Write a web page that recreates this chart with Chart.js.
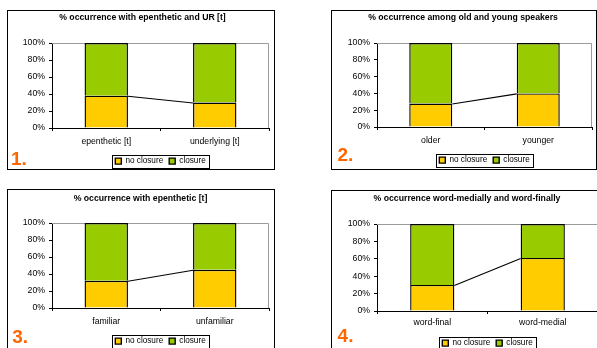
<!DOCTYPE html>
<html><head><meta charset="utf-8">
<script src="https://cdn.jsdelivr.net/npm/chart.js@4.4.1/dist/chart.umd.min.js"></script>
<style>
html,body{margin:0;padding:0;background:#fff;}
body{width:597px;height:348px;overflow:hidden;position:relative;}
.panel{position:absolute;box-sizing:border-box;border:1px solid #000;background:#fff;}
.panel canvas{position:absolute;left:0;top:0;}
.num{position:absolute;font:bold 19px/19px "Liberation Sans",Arial,sans-serif;color:#FF6600;white-space:nowrap;}
</style></head><body>
<script>
// ---- data ----
const seriesNames = ['no closure', 'closure'];
const yTickValues = [0, 20, 40, 60, 80, 100];
const yTickLabels = ['0%', '20%', '40%', '60%', '80%', '100%'];

const titles = [
  '% occurrence with epenthetic and UR [t]',
  '% occurrence among old and young speakers',
  '% occurrence with epenthetic [t]',
  '% occurrence word-medially and word-finally'
];
const panelNumbers = ['1.', '2.', '3.', '4.'];

const categories1 = ['epenthetic [t]', 'underlying [t]'];
const noClosure1 = [38, 30];
const closure1 = [62, 70];

const categories2 = ['older', 'younger'];
const noClosure2 = [28, 40];
const closure2 = [72, 60];

const categories3 = ['familiar', 'unfamiliar'];
const noClosure3 = [32, 45];
const closure3 = [68, 55];

const categories4 = ['word-final', 'word-medial'];
const noClosure4 = [30, 61];
const closure4 = [70, 39];

// ---- layout (page pixel targets) ----
const layouts = [
  {box:[7,10,268,160],  plot:[52,269,43,128],  titleX:142.5, titleY:17.5, labelY:142, legendY:157, numPos:[11,148.5]},
  {box:[331,10,266,160], plot:[377,592,43,127], titleX:463,   titleY:17.5, labelY:141, legendY:156, numPos:[337.4,145]},
  {box:[7,189,268,170], plot:[52,269,223,308], titleX:140.5, titleY:199,  labelY:322, legendY:337, numPos:[12.3,327]},
  {box:[331,190,272,170],plot:[377,598,224,311],titleX:467,   titleY:199,  labelY:323, legendY:339, numPos:[337.6,326]}
];

const panelsData = [
  [categories1, noClosure1, closure1],
  [categories2, noClosure2, closure2],
  [categories3, noClosure3, closure3],
  [categories4, noClosure4, closure4]
];

const FONT = '"Liberation Sans", Arial, sans-serif';
const FS = 8.7, LH = FS * 1.2, FSL = 8.2, LEGPAD = 6, TICK = 3;
const YELLOW = '#FFCC00', GREEN = '#99CC00';

const framePlugin = {
  id: 'frame',
  beforeDatasetsDraw(chart) {
    const a = chart.chartArea, ctx = chart.ctx;
    ctx.save();
    ctx.strokeStyle = '#9a9a9a';
    ctx.lineWidth = 1;
    ctx.beginPath();
    const t = Math.round(a.top) + 0.5, r = Math.round(a.right) - 0.5;
    ctx.moveTo(a.left, t);
    ctx.lineTo(r, t);
    ctx.lineTo(r, a.bottom);
    ctx.stroke();
    ctx.restore();
  }
};
const seriesLinePlugin = {
  id: 'seriesLine',
  afterDatasetsDraw(chart) {
    const meta = chart.getDatasetMeta(0);
    const e0 = meta.data[0], e1 = meta.data[1];
    if (!e0 || !e1) return;
    const ctx = chart.ctx;
    ctx.save();
    ctx.strokeStyle = '#000';
    ctx.lineWidth = 1.1;
    ctx.beginPath();
    ctx.moveTo(e0.x + e0.width / 2, e0.y + 0.5);
    ctx.lineTo(e1.x - e1.width / 2, e1.y + 0.5);
    ctx.stroke();
    ctx.restore();
  }
};
const legendBoxPlugin = {
  id: 'legendBox',
  afterDraw(chart) {
    const hb = chart.legend && chart.legend.legendHitBoxes;
    if (!hb || !hb.length) return;
    let l = Infinity, r = -Infinity, t = Infinity, b = -Infinity;
    hb.forEach(h => { l = Math.min(l, h.left); r = Math.max(r, h.left + h.width); t = Math.min(t, h.top); b = Math.max(b, h.top + h.height); });
    const ctx = chart.ctx;
    ctx.save();
    ctx.strokeStyle = '#000';
    ctx.lineWidth = 1;
    const x0 = Math.round(l - 3) + 0.5, x1 = Math.round(r + 3) + 0.5;
    const y0 = Math.round(t - 2) + 0.5, y1 = Math.round(b + 2.5) + 0.5;
    ctx.strokeRect(x0, y0, x1 - x0, y1 - y0);
    ctx.restore();
  }
};

layouts.forEach((L, i) => {
  const [cats, nc, cl] = panelsData[i];
  const div = document.createElement('div');
  div.className = 'panel';
  div.style.left = L.box[0] + 'px';
  div.style.top = L.box[1] + 'px';
  div.style.width = L.box[2] + 'px';
  div.style.height = L.box[3] + 'px';
  document.body.appendChild(div);
  const W = L.box[2] - 2, H = L.box[3] - 2;
  const ix = L.box[0] + 1, iy = L.box[1] + 1;
  const canvas = document.createElement('canvas');
  canvas.width = W; canvas.height = H;
  canvas.style.width = W + 'px'; canvas.style.height = H + 'px';
  div.appendChild(canvas);

  const plotL = L.plot[0] - ix, plotR = L.plot[1] - ix, plotT = L.plot[2] - iy, plotB = L.plot[3] - iy;
  const padR = W - plotR;
  const tc = L.titleX - ix;
  const padL = Math.max(0, 2 * tc - W + padR);
  const yW = plotL - padL;
  const tY = L.titleY - iy;
  const titleTop = tY - LH / 2, titleBot = plotT - tY - LH / 2;
  const xTickPad = (L.labelY - iy) - plotB - TICK - LH / 2;
  const legendTop = (L.legendY - iy) - LEGPAD;
  const xH = legendTop - plotB;
  const legendH = FSL + LEGPAD + 10;
  const padB = H - legendTop - legendH;

  new Chart(canvas, {
    type: 'bar',
    data: {
      labels: cats,
      datasets: [
        {label: seriesNames[0], data: nc, backgroundColor: YELLOW, borderColor: '#000', borderWidth: 1.4},
        {label: seriesNames[1], data: cl, backgroundColor: GREEN, borderColor: '#000', borderWidth: 1.4}
      ]
    },
    options: {
      responsive: false,
      animation: false,
      devicePixelRatio: 1,
      datasets: {bar: {barPercentage: 0.4, categoryPercentage: 1}},
      layout: {padding: {left: padL, right: padR, top: 0, bottom: padB}},
      scales: {
        x: {
          stacked: true,
          grid: {drawOnChartArea: false, drawTicks: true, tickLength: TICK, color: '#000', offset: true},
          border: {color: '#000', width: 1},
          ticks: {padding: xTickPad, color: '#000', font: {family: FONT, size: FS}, maxRotation: 0},
          afterFit(s) { s.height = xH; }
        },
        y: {
          stacked: true,
          min: 0, max: 100,
          afterBuildTicks(s) { s.ticks = yTickValues.map(v => ({value: v})); },
          grid: {drawOnChartArea: false, drawTicks: true, tickLength: TICK, color: '#000'},
          border: {color: '#000', width: 1},
          ticks: {padding: 4, color: '#000', font: {family: FONT, size: FS},
                  callback: (v) => yTickLabels[yTickValues.indexOf(v)]},
          afterFit(s) { s.width = yW; }
        }
      },
      plugins: {
        tooltip: {enabled: false},
        title: {display: true, text: titles[i], color: '#000',
                font: {family: FONT, size: FS, weight: 'bold'},
                padding: {top: titleTop, bottom: titleBot}},
        legend: {position: 'bottom', fullSize: false,
                 labels: {boxWidth: 6, boxHeight: 6, padding: LEGPAD, color: '#000',
                          font: {family: FONT, size: FSL}}}
      }
    },
    plugins: [framePlugin, seriesLinePlugin, legendBoxPlugin]
  });

  const num = document.createElement('span');
  num.className = 'num';
  num.textContent = panelNumbers[i];
  num.style.left = L.numPos[0] + 'px';
  num.style.top = L.numPos[1] + 'px';
  document.body.appendChild(num);
});
</script>
</body></html>
